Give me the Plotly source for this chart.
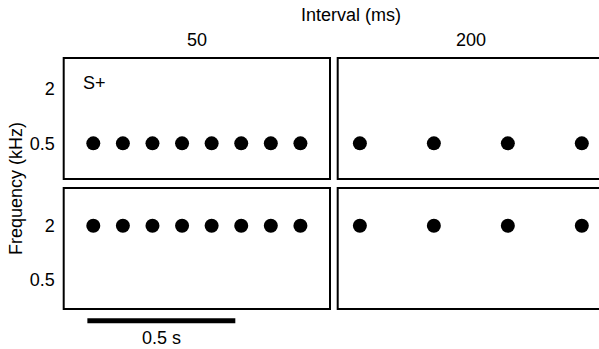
import plotly.graph_objects as go

# ---- data ----
intervals_ms = ["50", "200"]
times_50 = [0.1, 0.2, 0.3, 0.4, 0.5, 0.6, 0.7, 0.8]          # s, tone centres
times_200 = [0.075, 0.325, 0.575, 0.825]                    # s
freq_top = 0.5    # kHz, S+ row
freq_bottom = 2.0 # kHz
freq_ticks = [0.5, 2]
freq_ticktext = ["0.5", "2"]
scale_bar_start = 0.08
scale_bar_len = 0.5
scale_label = "0.5 s"
panel_label = "S+"

W, H = 599, 349
FONT = "Liberation Sans, Arial, Helvetica, sans-serif"
FS = 18

def px(x):
    return x / W

def py(y):
    return 1 - y / H

# panel pixel boxes
L1, R1 = 63.7, 330.0
L2, R2 = 337.7, 604.0
T1, B1 = 58.0, 179.0
T2, B2 = 188.0, 309.0
PXS = (R1 - L1) / 0.9  # px per second

fig = go.Figure()

marker = dict(color="black", size=14, line=dict(width=0))
fig.add_trace(go.Scatter(x=times_50, y=[freq_top] * len(times_50), mode="markers",
                         marker=marker, xaxis="x", yaxis="y", showlegend=False))
fig.add_trace(go.Scatter(x=times_200, y=[freq_top] * len(times_200), mode="markers",
                         marker=marker, xaxis="x2", yaxis="y2", showlegend=False))
fig.add_trace(go.Scatter(x=times_50, y=[freq_bottom] * len(times_50), mode="markers",
                         marker=marker, xaxis="x3", yaxis="y3", showlegend=False))
fig.add_trace(go.Scatter(x=times_200, y=[freq_bottom] * len(times_200), mode="markers",
                         marker=marker, xaxis="x4", yaxis="y4", showlegend=False))

xr1 = [0, 0.9]
xr2 = [0, (W - L2) / PXS]
lpp = 0.60206 / 54.3  # log10 units per px
yr_top = [-0.30103 - (B1 - 143.3) * lpp, 0.30103 + (89.2 - T1) * lpp]
yr_bot = [-0.30103 - (B2 - 280.2) * lpp, 0.30103 + (225.7 - T2) * lpp]

xcommon = dict(showticklabels=False, showgrid=False, zeroline=False, ticks="",
               showline=False, fixedrange=True)
ycommon = dict(type="log", showgrid=False, zeroline=False, ticks="", showline=False,
               tickvals=freq_ticks, ticktext=freq_ticktext,
               tickfont=dict(family=FONT, size=FS, color="black"), ticklabelstandoff=8)

fig.update_layout(
    width=W, height=H, margin=dict(l=0, r=0, t=0, b=0),
    paper_bgcolor="white", plot_bgcolor="white",
    xaxis=dict(domain=[px(L1), px(R1)], range=xr1, anchor="y", **xcommon),
    xaxis2=dict(domain=[px(L2), 1], range=xr2, anchor="y2", **xcommon),
    xaxis3=dict(domain=[px(L1), px(R1)], range=xr1, anchor="y3", **xcommon),
    xaxis4=dict(domain=[px(L2), 1], range=xr2, anchor="y4", **xcommon),
    yaxis=dict(domain=[py(B1), py(T1)], range=yr_top, anchor="x", **ycommon),
    yaxis2=dict(domain=[py(B1), py(T1)], range=yr_top, anchor="x2",
                **{**ycommon, "showticklabels": False}),
    yaxis3=dict(domain=[py(B2), py(T2)], range=yr_bot, anchor="x3", **ycommon),
    yaxis4=dict(domain=[py(B2), py(T2)], range=yr_bot, anchor="x4",
                **{**ycommon, "showticklabels": False}),
)

shapes = []
for (l, r) in [(L1, R1), (L2, R2)]:
    for (t, b) in [(T1, B1), (T2, B2)]:
        shapes.append(dict(type="rect", xref="paper", yref="paper",
                           x0=px(l), x1=px(r), y0=py(b), y1=py(t),
                           line=dict(color="black", width=2), fillcolor="rgba(0,0,0,0)"))
# scale bar
shapes.append(dict(type="line", xref="x3", yref="paper",
                   x0=scale_bar_start, x1=scale_bar_start + scale_bar_len,
                   y0=py(320.8), y1=py(320.8), line=dict(color="black", width=5)))
fig.update_layout(shapes=shapes)

tf = dict(family=FONT, size=FS, color="black")
ann = [
    dict(text="Interval (ms)", x=px(350.5), y=py(15), xref="paper", yref="paper",
         showarrow=False, font=tf, xanchor="center", yanchor="middle"),
    dict(text=intervals_ms[0], x=px((L1 + R1) / 2), y=py(40), xref="paper", yref="paper",
         showarrow=False, font=tf, xanchor="center", yanchor="middle"),
    dict(text=intervals_ms[1], x=px((L2 + R2) / 2), y=py(40), xref="paper", yref="paper",
         showarrow=False, font=tf, xanchor="center", yanchor="middle"),
    dict(text=panel_label, x=px(81), y=py(83), xref="paper", yref="paper",
         showarrow=False, font=tf, xanchor="left", yanchor="middle"),
    dict(text="Frequency (kHz)", x=px(16), y=py(189), xref="paper", yref="paper",
         showarrow=False, font=tf, xanchor="center", yanchor="middle", textangle=-90),
    dict(text=scale_label, x=scale_bar_start + scale_bar_len / 2, y=py(338),
         xref="x3", yref="paper",
         showarrow=False, font=tf, xanchor="center", yanchor="middle"),
]
fig.update_layout(annotations=ann)

fig.write_html("out.html", config={"displayModeBar": False})
